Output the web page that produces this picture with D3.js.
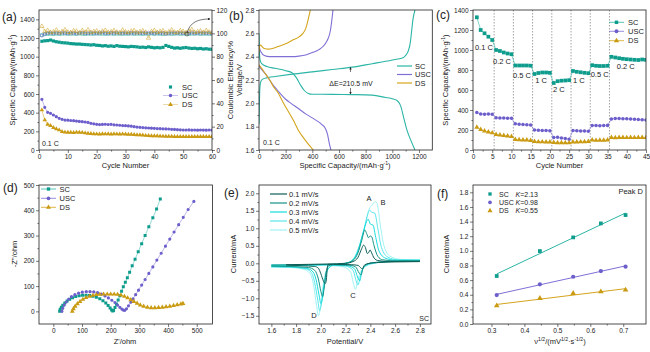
<!DOCTYPE html>
<html><head><meta charset="utf-8">
<script src="https://cdn.jsdelivr.net/npm/d3@7"></script>
<style>
body{margin:0;background:#fff}
svg text{font-family:"Liberation Sans",Arial,sans-serif;fill:#222}
</style></head><body>
<script>
// ---------- data ----------
var cSC = "#0e9c8d", cUSC = "#6c5fcb", cDS = "#c99a12";
var lSC = "#2bb5a5", lUSC = "#7f70d6", lDS = "#d4a41c";

// (a) cycling at 0.1 C
var cycA = d3.range(1, 61);
var capSC_a = [1165,1170,1172,1178,1168,1160,1155,1150,1148,1145,1140,1138,1135,1135,1132,1130,1128,1125,1128,1122,1120,1115,1118,1112,1115,1110,1118,1112,1110,1108,1105,1110,1108,1105,1100,1102,1098,1105,1100,1095,1098,1095,1100,1120,1110,1100,1092,1095,1090,1095,1098,1092,1088,1090,1085,1088,1082,1085,1080,1078];
var capUSC_a = [543,457,404,393,375,357,339,329,321,320,316,314,310,306,303,300,295,286,280,275,272,274,276,273,275,270,268,265,262,261,258,255,250,246,243,240,238,236,234,232,230,228,227,226,225,222,220,218,216,214,214,215,213,214,212,214,213,212,214,213];
var capDS_a = [428,321,275,261,239,225,214,196,190,189,188,186,190,189,187,182,178,175,172,171,170,172,171,173,170,172,171,170,171,170,168,166,164,162,161,158,155,153,151,150,150,148,147,146,145,145,144,143,144,143,144,142,143,144,143,142,143,144,143,143];
var ceSC_a = [98.5,99.2,99.5,99.6,99.4,99.7,99.5,99.6,99.8,99.5,99.6,99.7,99.5,99.8,99.6,99.4,99.7,99.6,99.5,99.8,99.6,99.7,99.5,99.6,99.8,99.5,99.7,99.6,99.5,99.7,99.6,99.8,99.5,99.7,99.6,99.5,99.7,99.6,99.8,99.5,99.7,99.6,99.4,99.6,99.7,99.5,99.6,99.8,99.5,99.7,99.6,99.5,99.7,99.6,99.8,99.5,99.6,99.7,99.5,99.6];
var ceUSC_a = [98.0,99.5,100.2,100.5,100.1,100.4,100.0,100.6,100.3,100.1,100.5,100.2,99.9,100.4,100.6,100.2,100.0,100.5,100.3,100.1,100.4,100.7,100.2,100.0,100.5,100.3,100.6,100.1,100.4,100.2,100.0,100.5,100.3,100.7,100.2,100.4,100.1,100.6,100.3,100.0,100.5,100.2,100.4,99.5,100.1,100.6,100.3,100.2,100.5,100.0,100.4,100.3,100.6,100.1,100.2,100.5,100.3,100.0,100.4,100.2];
var ceDS_a = [106.0,101.5,102.5,100.8,101.2,102.8,100.5,101.5,103.0,101.0,100.6,102.2,101.8,100.4,102.5,101.0,103.0,100.8,101.5,102.0,100.7,101.8,102.6,100.9,101.3,102.4,101.0,100.5,102.8,101.2,100.8,101.9,102.3,100.6,101.4,102.1,100.9,96.0,101.5,102.5,100.8,101.6,102.2,100.4,101.3,102.9,101.0,100.7,102.3,101.5,100.6,101.8,103.2,100.9,101.4,102.0,100.8,102.4,101.1,100.7];

// (b) charge/discharge profiles [capacity, voltage]
var chSC = [[0,1.82],[3,2.0],[6,2.12],[12,2.18],[25,2.205],[60,2.22],[120,2.23],[250,2.25],[400,2.27],[550,2.29],[700,2.31],[850,2.34],[950,2.36],[1040,2.38],[1080,2.39],[1100,2.41],[1120,2.45],[1135,2.52],[1145,2.62],[1155,2.72],[1170,2.8]];
var diSC = [[0,2.6],[3,2.45],[8,2.37],[20,2.34],[60,2.315],[120,2.3],[200,2.28],[250,2.26],[280,2.22],[310,2.16],[340,2.11],[370,2.085],[400,2.078],[550,2.077],[700,2.075],[850,2.07],[950,2.05],[1000,2.04],[1040,2.02],[1065,1.97],[1085,1.88],[1110,1.77],[1140,1.68],[1170,1.6]];
var chUSC = [[0,2.5],[5,2.47],[15,2.44],[40,2.41],[80,2.4],[150,2.4],[250,2.4],[300,2.405],[350,2.415],[400,2.435],[450,2.46],[490,2.5],[520,2.56],[535,2.62],[545,2.7],[555,2.8]];
var diUSC = [[0,2.32],[20,2.29],[50,2.25],[80,2.2],[110,2.15],[140,2.11],[170,2.07],[200,2.035],[240,2.0],[290,1.96],[350,1.91],[420,1.86],[470,1.82],[500,1.78],[515,1.73],[525,1.67],[535,1.62],[540,1.6]];
var chDS = [[0,2.44],[5,2.49],[12,2.5],[20,2.49],[40,2.47],[70,2.465],[100,2.47],[150,2.49],[200,2.51],[250,2.54],[300,2.57],[330,2.6],[350,2.64],[365,2.7],[375,2.75],[385,2.8]];
var diDS = [[0,2.33],[20,2.3],[50,2.25],[80,2.2],[110,2.14],[145,2.086],[180,2.01],[220,1.93],[260,1.85],[295,1.77],[330,1.71],[370,1.65],[407,1.6]];

// (c) rate capability
var cycC = d3.range(1, 46);
var capSC_c = [1327,1200,1167,1133,1100,1000,990,975,965,958,845,845,845,845,843,760,770,775,775,772,670,688,693,695,698,790,782,777,772,768,848,842,840,840,842,932,925,918,912,908,905,902,900,905,902];
var capUSC_c = [375,360,358,360,358,322,320,320,318,318,262,258,255,252,250,200,197,195,195,193,125,128,120,115,108,195,192,190,190,187,245,245,243,245,246,310,315,315,313,312,310,308,305,302,300];
var capDS_c = [228,205,190,180,172,155,150,145,140,135,105,103,100,100,95,85,82,82,80,80,75,73,73,72,72,80,80,82,83,85,100,96,98,98,100,125,123,125,125,124,125,124,125,125,124];
var rateBounds = [5.5,10.5,15.5,20.5,25.5,30.5,35.5];
// [label, cycle position of its left edge, capacity of its baseline]
var rateLabels = [["0.1 C",0.5,996],["0.2 C",5.2,856],["0.5 C",10.4,723],["1 C",16.2,673],["2 C",20.8,580],["1 C",26,666],["0.5 C",30.6,733],["0.2 C",37.4,813]];

// (d) Nyquist [Z', -Z'']
var eisSC = [[22,0],[24,8],[28,16],[33,24],[40,33],[48,41],[57,48],[67,54],[78,59],[90,62],[102,64],[114,64],[126,63],[138,60],[150,56],[162,50],[173,42],[183,33],[191,23],[198,13],[203,5],[207,1],[210,3],[215,15],[220,28],[226,45],[232,62],[238,80],[244,97],[251,115],[258,133],[266,155],[275,180],[285,206],[296,236],[308,268],[320,300],[333,335],[347,370],[360,405],[373,445]];
var eisUSC = [[30,0],[33,12],[38,25],[45,37],[53,48],[63,58],[75,66],[88,72],[101,76],[115,78],[128,78],[141,77],[154,74],[167,68],[180,61],[192,53],[204,44],[215,35],[224,25],[232,16],[239,9],[244,5],[249,4],[255,10],[262,22],[270,36],[278,50],[287,66],[297,84],[308,104],[320,126],[333,150],[347,176],[361,203],[376,230],[391,258],[406,286],[421,314],[437,343],[453,372],[470,403],[490,435]];
var eisDS = [[66,0],[70,10],[76,20],[84,30],[93,39],[103,47],[114,54],[126,59],[138,63],[150,66],[162,67],[175,68],[188,68],[200,68],[212,68],[224,67],[236,64],[248,59],[259,53],[270,46],[281,39],[292,32],[303,25],[315,20],[328,16],[341,14],[354,14],[367,15],[380,16],[393,18],[406,20],[419,23],[432,26],[445,29],[452,31]];

// (e) CV curves, anodic and cathodic branches [V, mA], both listed with rising V
var scanRates = ["0.1 mV/s","0.2 mV/s","0.3 mV/s","0.4 mV/s","0.5 mV/s"];
var cvColors = ["#0f5f58","#149285","#15dcdc","#5ae6ea","#a0f3f5"];
var cvAnodic = [
 [[1.72,-0.04],[1.9,-0.03],[2.05,-0.02],[2.2,0.0],[2.26,0.05],[2.3,0.17],[2.33,0.42],[2.345,0.52],[2.36,0.45],[2.375,0.28],[2.385,0.3],[2.398,0.38],[2.41,0.3],[2.43,0.15],[2.46,0.08],[2.55,0.05],[2.7,0.05],[2.8,0.05]],
 [[1.6,-0.05],[1.9,-0.04],[2.1,-0.03],[2.2,0.0],[2.26,0.08],[2.3,0.3],[2.33,0.65],[2.355,0.95],[2.37,0.85],[2.385,0.73],[2.398,0.78],[2.41,0.76],[2.43,0.5],[2.46,0.2],[2.5,0.1],[2.6,0.07],[2.8,0.07]],
 [[1.6,-0.05],[1.9,-0.05],[2.1,-0.04],[2.2,0.0],[2.26,0.1],[2.3,0.35],[2.34,0.85],[2.37,1.2],[2.382,1.26],[2.4,1.12],[2.422,1.09],[2.44,0.8],[2.47,0.35],[2.52,0.15],[2.6,0.09],[2.8,0.08]],
 [[1.6,-0.06],[1.9,-0.05],[2.1,-0.04],[2.2,0.0],[2.26,0.1],[2.3,0.38],[2.35,1.0],[2.38,1.42],[2.395,1.52],[2.41,1.46],[2.436,1.43],[2.46,1.0],[2.49,0.45],[2.54,0.18],[2.62,0.1],[2.8,0.09]],
 [[1.6,-0.06],[1.9,-0.06],[2.1,-0.05],[2.2,0.0],[2.26,0.12],[2.3,0.4],[2.36,1.1],[2.39,1.55],[2.41,1.65],[2.44,1.76],[2.455,1.7],[2.48,1.1],[2.51,0.5],[2.56,0.2],[2.65,0.11],[2.8,0.1]]
];
var cvCathodic = [
 [[1.72,-0.05],[1.85,-0.07],[1.95,-0.09],[1.98,-0.14],[2.0,-0.3],[2.02,-0.5],[2.035,-0.58],[2.045,-0.45],[2.05,-0.2],[2.06,-0.03],[2.1,-0.03],[2.25,-0.04],[2.3,-0.06],[2.32,-0.12],[2.335,-0.16],[2.35,-0.06],[2.38,-0.01],[2.45,0.02],[2.6,0.04],[2.8,0.05]],
 [[1.6,-0.08],[1.75,-0.09],[1.9,-0.12],[1.95,-0.2],[1.98,-0.45],[2.0,-0.8],[2.015,-0.95],[2.025,-0.75],[2.04,-0.3],[2.06,-0.08],[2.1,-0.04],[2.22,-0.05],[2.28,-0.1],[2.31,-0.28],[2.325,-0.33],[2.34,-0.15],[2.37,-0.03],[2.42,0.02],[2.55,0.05],[2.8,0.07]],
 [[1.6,-0.09],[1.75,-0.1],[1.88,-0.14],[1.93,-0.22],[1.96,-0.45],[1.985,-0.9],[2.0,-1.15],[2.01,-1.05],[2.03,-0.55],[2.06,-0.15],[2.1,-0.05],[2.2,-0.06],[2.27,-0.15],[2.3,-0.42],[2.315,-0.5],[2.33,-0.25],[2.36,-0.06],[2.42,0.01],[2.55,0.05],[2.8,0.08]],
 [[1.6,-0.1],[1.75,-0.11],[1.87,-0.15],[1.92,-0.25],[1.95,-0.55],[1.975,-1.05],[1.99,-1.35],[2.0,-1.25],[2.02,-0.7],[2.05,-0.2],[2.1,-0.06],[2.2,-0.08],[2.26,-0.2],[2.285,-0.5],[2.3,-0.62],[2.32,-0.35],[2.35,-0.1],[2.42,0.0],[2.55,0.05],[2.8,0.09]],
 [[1.6,-0.11],[1.75,-0.12],[1.86,-0.17],[1.91,-0.28],[1.94,-0.6],[1.965,-1.2],[1.98,-1.5],[1.99,-1.4],[2.01,-0.85],[2.04,-0.25],[2.1,-0.07],[2.18,-0.1],[2.24,-0.25],[2.265,-0.6],[2.28,-0.74],[2.3,-0.45],[2.34,-0.15],[2.42,-0.01],[2.55,0.05],[2.8,0.1]]
];

// (f) peak D current vs sqrt(scan rate)
var sqrtV = [0.316,0.447,0.548,0.632,0.707];
var ipSC = [0.656,0.997,1.184,1.375,1.489];
var ipUSC = [0.396,0.542,0.646,0.724,0.783];
var ipDS = [0.25,0.351,0.419,0.442,0.465];
var slopeLabels = ["K=2.13","K=0.98","K=0.55"];

// tick values
var tA_x = [0,10,20,30,40,50,60], tA_y = [0,200,400,600,800,1000,1200,1400], tA_ce = [0,20,40,60,80,100,120];
var tB_x = [0,200,400,600,800,1000,1200], tB_y = [1.6,1.8,2.0,2.2,2.4,2.6,2.8];
var tC_x = [0,5,10,15,20,25,30,35,40,45], tC_y = [0,200,400,600,800,1000,1200,1400];
var tD_x = [0,100,200,300,400,500], tD_y = [0,100,200,300,400,500];
var tE_x = [1.6,1.8,2.0,2.2,2.4,2.6,2.8], tE_y = [-1.5,-1.0,-0.5,0.0,0.5,1.0,1.5,2.0];
var tF_x = [0.3,0.4,0.5,0.6,0.7], tF_y = [0,0.2,0.4,0.6,0.8,1.0,1.2,1.4,1.6,1.8];

// ---------- drawing ----------
var svg = d3.select("body").append("svg").attr("width", 650).attr("height", 352);
var defs = svg.append("defs");
defs.append("marker").attr("id","ah").attr("viewBox","0 0 6 6").attr("refX",5).attr("refY",3)
  .attr("markerWidth",4).attr("markerHeight",4).attr("orient","auto")
  .append("path").attr("d","M0,0L6,3L0,6Z").attr("fill","#222");

var clipN = 0;
function frame(x, y) {
  var id = "clip" + (clipN++);
  defs.append("clipPath").attr("id", id).append("rect")
    .attr("x", x.range()[0]).attr("y", y.range()[1])
    .attr("width", x.range()[1] - x.range()[0]).attr("height", y.range()[0] - y.range()[1]);
  return svg.append("g").attr("clip-path", "url(#" + id + ")");
}

function styleAxis(g) {
  g.select(".domain").remove();
  g.selectAll("line").attr("stroke", "#222").attr("stroke-width", 0.6);
  g.selectAll("text").attr("font-size", 6.5).attr("fill", "#222")
    .style("font-family", '"Liberation Sans",Arial,sans-serif');
}
function minors(t) {
  var m = [];
  for (var i = 0; i < t.length - 1; i++) m.push((t[i] + t[i + 1]) / 2);
  return m;
}
function axes(x, y, xt, yt, xf, yf) {
  var x0 = x.range()[0], y0 = y.range()[0];
  svg.append("g").attr("transform", "translate(0," + y0 + ")")
    .call(d3.axisBottom(x).tickValues(xt).tickFormat(xf).tickSize(3).tickSizeOuter(0).tickPadding(1.5)).call(styleAxis);
  svg.append("g").attr("transform", "translate(0," + y0 + ")")
    .call(d3.axisBottom(x).tickValues(minors(xt)).tickFormat("").tickSize(1.6).tickSizeOuter(0)).call(styleAxis);
  svg.append("g").attr("transform", "translate(" + x0 + ",0)")
    .call(d3.axisLeft(y).tickValues(yt).tickFormat(yf).tickSize(3).tickSizeOuter(0).tickPadding(1.5)).call(styleAxis);
  svg.append("g").attr("transform", "translate(" + x0 + ",0)")
    .call(d3.axisLeft(y).tickValues(minors(yt)).tickFormat("").tickSize(1.6).tickSizeOuter(0)).call(styleAxis);
}
function box(x, y) {
  svg.append("rect").attr("x", x.range()[0]).attr("y", y.range()[1])
    .attr("width", x.range()[1] - x.range()[0]).attr("height", y.range()[0] - y.range()[1])
    .attr("fill", "none").attr("stroke", "#222").attr("stroke-width", 0.8);
}
// text with superscript parts: parts = [[str, isSup], ...]
function rich(g, x, y, parts, size, rotate, anchor) {
  var t = g.append("text").attr("x", x).attr("y", y).attr("font-size", size)
    .attr("text-anchor", anchor || "middle");
  if (rotate) t.attr("transform", "rotate(-90," + x + "," + y + ")");
  var up = false;
  parts.forEach(function (p) {
    var s = t.append("tspan").text(p[0]);
    if (p[1] && !up) { s.attr("dy", -size * 0.38).attr("font-size", size * 0.68); up = true; }
    else if (p[1]) { s.attr("font-size", size * 0.68); }
    else if (up) { s.attr("dy", size * 0.38); up = false; }
  });
  return t;
}
function label(x, y, s, size, anchor) {
  return svg.append("text").attr("x", x).attr("y", y).attr("font-size", size)
    .attr("text-anchor", anchor || "start").text(s);
}
function sym(g, data, x, y, type, size, fill, stroke, sw) {
  g.selectAll(null).data(data).enter().append("path")
    .attr("d", d3.symbol().type(type).size(size))
    .attr("transform", function (d) { return "translate(" + x(d[0]) + "," + y(d[1]) + ")"; })
    .attr("fill", fill).attr("stroke", stroke || "none").attr("stroke-width", sw || 0.6);
}
function line(g, data, x, y, color, w, curve) {
  var l = d3.line().x(function (d) { return x(d[0]); }).y(function (d) { return y(d[1]); });
  if (curve) l.curve(curve);
  return g.append("path").attr("d", l(data)).attr("fill", "none").attr("stroke", color).attr("stroke-width", w);
}
function zip(xs, ys) { return xs.map(function (v, i) { return [v, ys[i]]; }); }
var f0 = d3.format("d"), f1 = d3.format(".1f");
var capTitle = [["Specific Capacity/(mAh·g"], ["-1", true], [")"]];

// ---------- (a) ----------
var xA = d3.scaleLinear().domain([0, 60]).range([39, 212]);
var yA = d3.scaleLinear().domain([0, 1500]).range([150, 10]);
var yA2 = d3.scaleLinear().domain([0, 120]).range([150, 10]);
axes(xA, yA, tA_x, tA_y, f0, f0);
svg.append("g").attr("transform", "translate(212,0)")
  .call(d3.axisRight(yA2).tickValues(tA_ce).tickFormat(f0).tickSize(3).tickSizeOuter(0).tickPadding(1.5)).call(styleAxis);
svg.append("g").attr("transform", "translate(212,0)")
  .call(d3.axisRight(yA2).tickValues(minors(tA_ce)).tickFormat("").tickSize(1.6).tickSizeOuter(0)).call(styleAxis);
var gA = frame(xA, yA);
line(gA, zip(cycA, ceSC_a), xA, yA2, cSC, 0.4).attr("opacity", 0.6);
line(gA, zip(cycA, ceUSC_a), xA, yA2, cUSC, 0.4).attr("opacity", 0.6);
line(gA, zip(cycA, ceDS_a), xA, yA2, cDS, 0.4).attr("opacity", 0.6);
sym(gA, zip(cycA, ceSC_a), xA, yA2, d3.symbolSquare, 8, "none", cSC, 0.5);
sym(gA, zip(cycA, ceUSC_a), xA, yA2, d3.symbolCircle, 7, "none", cUSC, 0.5);
sym(gA, zip(cycA, ceDS_a), xA, yA2, d3.symbolTriangle, 8, "none", cDS, 0.5);
line(gA, zip(cycA, capUSC_a), xA, yA, lUSC, 0.5);
line(gA, zip(cycA, capDS_a), xA, yA, lDS, 0.5);
sym(gA, zip(cycA, capSC_a), xA, yA, d3.symbolSquare, 10, cSC);
sym(gA, zip(cycA, capUSC_a), xA, yA, d3.symbolCircle, 8, cUSC);
sym(gA, zip(cycA, capDS_a), xA, yA, d3.symbolTriangle, 9, cDS);
box(xA, yA);
svg.append("path").attr("d", "M187,33 C190,22 198,19 210,19").attr("fill", "none")
  .attr("stroke", "#222").attr("stroke-width", 0.6).attr("marker-end", "url(#ah)");
svg.append("circle").attr("cx", 187).attr("cy", 34).attr("r", 2).attr("fill", "none").attr("stroke", "#222").attr("stroke-width", 0.5);
// legend (a)
[["SC", cSC, d3.symbolSquare, 87, false], ["USC", cUSC, d3.symbolCircle, 95.5, true], ["DS", cDS, d3.symbolTriangle, 104.5, true]].forEach(function (r) {
  if (r[4]) svg.append("line").attr("x1", 163).attr("x2", 178).attr("y1", r[3]).attr("y2", r[3]).attr("stroke", r[1]).attr("stroke-width", 0.6).attr("opacity", 0.6);
  svg.append("path").attr("d", d3.symbol().type(r[2]).size(10)).attr("transform", "translate(170.5," + r[3] + ")").attr("fill", r[1]);
  label(182, r[3] + 2.8, r[0], 7.5);
});
label(42, 146, "0.1 C", 7);
rich(svg, xA(30), 168, [["Cycle Number"]], 7.5);
rich(svg, 15, 80, capTitle, 7.5, true);
rich(svg, 233, 80, [["Coulombic Efficiency/%"]], 7.5, true);
label(2, 21, "(a)", 12);

// ---------- (b) ----------
var xB = d3.scaleLinear().domain([0, 1300]).range([259, 432.3]);
var yB = d3.scaleLinear().domain([1.6, 2.8]).range([150, 10]);
axes(xB, yB, tB_x, tB_y, f0, f1);
var gB = frame(xB, yB);
var mono = d3.curveMonotoneX;
line(gB, chSC, xB, yB, lSC, 1.1, mono);
line(gB, diSC, xB, yB, lSC, 1.1, mono);
line(gB, chUSC, xB, yB, lUSC, 1.1, mono);
line(gB, diUSC, xB, yB, lUSC, 1.1, mono);
line(gB, chDS, xB, yB, lDS, 1.1, mono);
line(gB, diDS, xB, yB, lDS, 1.1, mono);
box(xB, yB);
svg.append("line").attr("x1", 350.5).attr("x2", 350.5).attr("y1", 72).attr("y2", 67.5)
  .attr("stroke", "#222").attr("stroke-width", 0.6).attr("marker-end", "url(#ah)");
svg.append("line").attr("x1", 350.5).attr("x2", 350.5).attr("y1", 88).attr("y2", 94)
  .attr("stroke", "#222").attr("stroke-width", 0.6).attr("marker-end", "url(#ah)");
label(351, 85.5, "ΔE=210.5 mV", 7, "middle");
[["SC", lSC, 66], ["USC", lUSC, 74.5], ["DS", lDS, 83]].forEach(function (r) {
  svg.append("line").attr("x1", 397).attr("x2", 412).attr("y1", r[2]).attr("y2", r[2]).attr("stroke", r[1]).attr("stroke-width", 1.2);
  label(415, r[2] + 2.6, r[0], 7.5);
});
label(263, 145, "0.1 C", 7);
rich(svg, 345, 168, capTitle, 7.5);
rich(svg, 242, 80, [["Voltage/V"]], 7.5, true);
label(229, 20, "(b)", 12);

// ---------- (c) ----------
var xC = d3.scaleLinear().domain([0, 45]).range([473, 646]);
var yC = d3.scaleLinear().domain([0, 1400]).range([150, 10]);
axes(xC, yC, tC_x, tC_y, f0, f0);
var gC = frame(xC, yC);
rateBounds.forEach(function (b) {
  gC.append("line").attr("x1", xC(b)).attr("x2", xC(b)).attr("y1", 10).attr("y2", 150)
    .attr("stroke", "#666").attr("stroke-width", 0.6).attr("stroke-dasharray", "1.5,1.5");
});
line(gC, zip(cycC, capSC_c), xC, yC, lSC, 0.6);
line(gC, zip(cycC, capUSC_c), xC, yC, lUSC, 0.6);
line(gC, zip(cycC, capDS_c), xC, yC, lDS, 0.6);
sym(gC, zip(cycC, capSC_c), xC, yC, d3.symbolSquare, 14, cSC);
sym(gC, zip(cycC, capUSC_c), xC, yC, d3.symbolCircle, 10, cUSC);
sym(gC, zip(cycC, capDS_c), xC, yC, d3.symbolTriangle, 11, cDS);
box(xC, yC);
rateLabels.forEach(function (r) { label(xC(r[1]), yC(r[2]), r[0], 7.5); });
[["SC", lSC, cSC, d3.symbolSquare, 22.3], ["USC", lUSC, cUSC, d3.symbolCircle, 31.3], ["DS", lDS, cDS, d3.symbolTriangle, 40.7]].forEach(function (r) {
  svg.append("line").attr("x1", 609).attr("x2", 624).attr("y1", r[4]).attr("y2", r[4]).attr("stroke", r[1]).attr("stroke-width", 0.8);
  svg.append("path").attr("d", d3.symbol().type(r[3]).size(12)).attr("transform", "translate(616.5," + r[4] + ")").attr("fill", r[2]);
  label(628, r[4] + 2.6, r[0], 7.5);
});
rich(svg, xC(22.5), 168, [["Cycle Number"]], 7.5);
rich(svg, 448, 80, capTitle, 7.5, true);
label(436, 19, "(c)", 12);

// ---------- (d) ----------
var xD = d3.scaleLinear().domain([-50, 555]).range([39, 212.5]);
var yD = d3.scaleLinear().domain([-50, 500]).range([324, 185]);
axes(xD, yD, tD_x, tD_y, f0, f0);
var gD = frame(xD, yD);
line(gD, eisSC, xD, yD, lSC, 0.5);
line(gD, eisUSC, xD, yD, lUSC, 0.5);
line(gD, eisDS, xD, yD, lDS, 0.5);
sym(gD, eisSC, xD, yD, d3.symbolSquare, 9, cSC);
sym(gD, eisUSC, xD, yD, d3.symbolCircle, 8, cUSC);
sym(gD, eisDS, xD, yD, d3.symbolTriangle, 10, cDS);
box(xD, yD);
[["SC", lSC, cSC, d3.symbolSquare, 189], ["USC", lUSC, cUSC, d3.symbolCircle, 198.3], ["DS", lDS, cDS, d3.symbolTriangle, 207.3]].forEach(function (r) {
  svg.append("line").attr("x1", 41).attr("x2", 56).attr("y1", r[4]).attr("y2", r[4]).attr("stroke", r[1]).attr("stroke-width", 0.8);
  svg.append("path").attr("d", d3.symbol().type(r[3]).size(11)).attr("transform", "translate(48.5," + r[4] + ")").attr("fill", r[2]);
  label(59.5, r[4] + 2.6, r[0], 7.5);
});
rich(svg, 125, 344, [["Z'/ohm"]], 7.5);
rich(svg, 17, 254, [["-Z''/ohm"]], 7.5, true);
label(3, 192, "(d)", 12);

// ---------- (e) ----------
var xE = d3.scaleLinear().domain([1.5, 2.89]).range([259, 431]);
var yE = d3.scaleLinear().domain([-1.734, 2.237]).range([324, 185]);
axes(xE, yE, tE_x, tE_y, f1, f1);
var gE = frame(xE, yE);
for (var k = cvColors.length - 1; k >= 0; k--) {
  line(gE, cvAnodic[k], xE, yE, cvColors[k], 1, mono);
  line(gE, cvCathodic[k], xE, yE, cvColors[k], 1, mono);
}
box(xE, yE);
scanRates.forEach(function (s, i) {
  var yy = 194 + i * 9;
  svg.append("line").attr("x1", 270).attr("x2", 287).attr("y1", yy).attr("y2", yy).attr("stroke", cvColors[i]).attr("stroke-width", 1.2);
  label(289, yy + 2.6, s, 7.5);
});
label(369, 201, "A", 7.5, "middle");
label(383, 205, "B", 7.5, "middle");
label(353, 298, "C", 7.5, "middle");
label(314, 318, "D", 7.5, "middle");
label(429, 321, "SC", 7, "end");
rich(svg, 345, 344, [["Potential/V"]], 7.5);
rich(svg, 236, 254, [["Current/mA"]], 7.5, true);
label(224, 197, "(e)", 12);

// ---------- (f) ----------
var xF = d3.scaleLinear().domain([0.244, 0.769]).range([473, 646]);
var yF = d3.scaleLinear().domain([0, 1.9]).range([324, 185]);
axes(xF, yF, tF_x, tF_y, f1, f1);
var gF = frame(xF, yF);
[[ipSC, lSC, cSC, d3.symbolSquare], [ipUSC, lUSC, cUSC, d3.symbolCircle], [ipDS, lDS, cDS, d3.symbolTriangle]].forEach(function (r) {
  var pts = zip(sqrtV, r[0]);
  var mx = d3.mean(sqrtV), my = d3.mean(r[0]);
  var b = d3.sum(pts, function (p) { return (p[0] - mx) * (p[1] - my); }) / d3.sum(sqrtV, function (v) { return (v - mx) * (v - mx); });
  var a = my - b * mx;
  var x1 = d3.min(sqrtV), x2 = d3.max(sqrtV);
  line(gF, [[x1, a + b * x1], [x2, a + b * x2]], xF, yF, r[1], 1);
  sym(gF, pts, xF, yF, r[3], 14, r[2]);
});
box(xF, yF);
[["SC", cSC, d3.symbolSquare, 194], ["USC", cUSC, d3.symbolCircle, 202.3], ["DS", cDS, d3.symbolTriangle, 210.7]].forEach(function (r, i) {
  svg.append("path").attr("d", d3.symbol().type(r[2]).size(11)).attr("transform", "translate(490," + r[3] + ")").attr("fill", r[1]);
  label(499, r[3] + 2.5, r[0], 7);
  svg.append("text").attr("x", 515.5).attr("y", r[3] + 2.5).attr("font-size", 7)
    .html('<tspan font-style="italic">K</tspan>' + slopeLabels[i].slice(1));
});
label(643, 194, "Peak D", 7.5, "end");
rich(svg, 560, 344, [["ν"], ["1/2", true], ["/(mV"], ["1/2", true], ["·s"], ["-1/2", true], [")"]], 7.5);
rich(svg, 449, 254, [["Current/mA"]], 7.5, true);
label(437, 198, "(f)", 12);
</script>
</body></html>
